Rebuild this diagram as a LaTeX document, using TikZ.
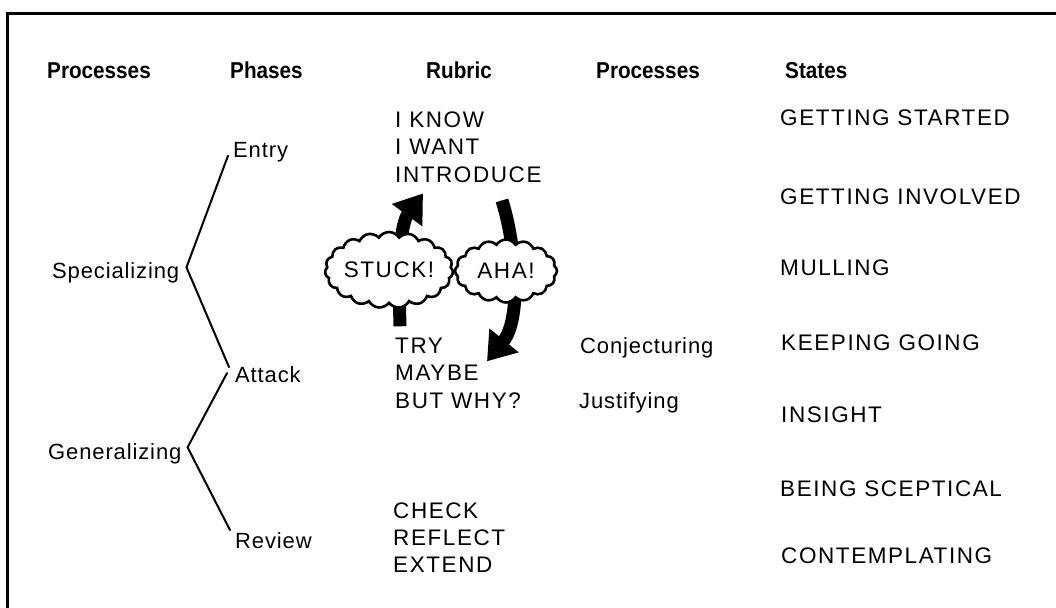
\documentclass[tikz,border=0pt]{standalone}
\usepackage{fontspec}
\setmainfont{Liberation Sans}[LetterSpace=4]
\newfontfamily\capsfont{Liberation Sans}[LetterSpace=7]
\newfontfamily\headfont{Liberation Sans}[FakeStretch=0.9]
\usetikzlibrary{arrows.meta, shapes.symbols}

\tikzset{
	lbl/.style={anchor=base west, inner sep=0pt, font=\fontsize{22}{27}\selectfont}, % mixed case text
	caps/.style={lbl, font=\fontsize{22.5}{27}\capsfont}, % capitals, spaced out
	head/.style={lbl, font=\fontsize{23}{27}\headfont\bfseries}, % column headings
	bracket/.style={line width=2pt, line cap=round}, % phase brackets
	bigarrow/.style={line width=13pt, -{Triangle[width=36pt,length=27pt]}}, % the loop arrows
	bubble/.style={cloud, cloud puff arc=115, cloud ignores aspect, draw, line width=2.6pt, fill=white, inner sep=0pt, font=\fontsize{22.5}{27}\capsfont}, % exclamations
}

\begin{document}
\begin{tikzpicture}[x=1pt, y=-1pt]
	\useasboundingbox (0,0) rectangle (1056,607);
	% frame (runs off the page on the right and at the bottom)
	\draw[line width=3pt] (1080,13.5) -- (7,13.5) -- (7,630);

	% Headings
	\node[head] (hproc) at (47,79) {Processes};
	\node[head] (hphase) at (230,79) {Phases};
	\node[head] (hrub) at (426,79) {Rubric};
	\node[head] (hproc2) at (596,79) {Processes};
	\node[head] (hstate) at (785,79) {States};

	% Processes and phases
	\node[lbl] (spec) at (52,278) {Specializing};
	\node[lbl] (gen) at (48,459) {Generalizing};
	\node[lbl] (entry) at (233,157) {Entry};
	\node[lbl] (attack) at (235,382) {Attack};
	\node[lbl] (review) at (235,548) {Review};

	\draw[bracket] ([shift={(-5,4)}]entry.west) -- ([shift={(7,-5)}]spec.east) -- ([shift={(-6,-7)}]attack.west);
	\draw[bracket] ([shift={(-8,-1)}]attack.west) -- ([shift={(6,-6)}]gen.east) -- ([shift={(-5,-10)}]review.west);

	% Rubric
	\node[caps] (know) at (395,127) {I KNOW};
	\node[caps] (want) at (395,154.5) {I WANT};
	\node[caps] (intro) at (395,182) {INTRODUCE};
	\node[caps] (try) at (395,353) {TRY};
	\node[caps] (maybe) at (395,380.5) {MAYBE};
	\node[caps] (why) at (395,408) {BUT WHY?};
	\node[caps] (check) at (393,518) {CHECK};
	\node[caps] (reflect) at (393,545) {REFLECT};
	\node[caps] (extend) at (393,572) {EXTEND};

	% Stuck and aha loop
	\draw[bigarrow] ([shift={(5,-11)}]try.north west) .. controls +(-2,-70) and +(-22,30) .. ([shift={(28,11)}]intro.south west);
	\draw[bigarrow] ([shift={(107,18)}]intro.south west) .. controls +(14,45) and +(35,-43) .. ([shift={(92,24)}]try.north west);
	\node[bubble, cloud puffs=19, minimum width=125pt, minimum height=76pt] (stuck) at (389,270) {STUCK!};
	\node[bubble, cloud puffs=16, minimum width=102pt, minimum height=63pt] (aha) at (506,271) {AHA!};

	% Processes
	\node[lbl] (conj) at (580,353) {Conjecturing};
	\node[lbl] (just) at (579,408) {Justifying};

	% States
	\node[caps] (s1) at (780,125) {GETTING STARTED};
	\node[caps] (s2) at (780,204) {GETTING INVOLVED};
	\node[caps] (s3) at (780,275) {MULLING};
	\node[caps] (s4) at (781,350) {KEEPING GOING};
	\node[caps] (s5) at (781,422) {INSIGHT};
	\node[caps] (s6) at (780,496) {BEING SCEPTICAL};
	\node[caps] (s7) at (781,563) {CONTEMPLATING};
\end{tikzpicture}
\end{document}
